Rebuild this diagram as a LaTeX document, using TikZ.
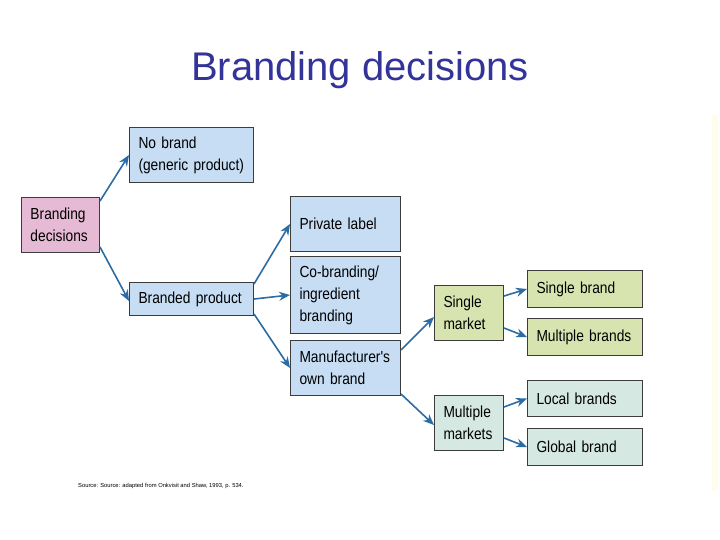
\documentclass[tikz,border=0pt]{standalone}
\usepackage{xcolor}
\usepackage{fontspec}
\setmainfont{Liberation Sans}
\newfontfamily\boxfont[FakeStretch=0.86,WordSpace=0.86]{Liberation Sans}
\usepackage{tikz}
\usetikzlibrary{arrows.meta}
\definecolor{titleblue}{HTML}{333399}
\definecolor{boxborder}{HTML}{3C3C3C}
\definecolor{arrowblue}{HTML}{2C6CA4}
\definecolor{pinkfill}{HTML}{E6BAD4}
\definecolor{bluefill}{HTML}{C6DDF4}
\definecolor{greenfill}{HTML}{D8E4B0}
\definecolor{tealfill}{HTML}{D5E8E2}
\definecolor{edgecream}{HTML}{FFFCEC}

\tikzset{
    box/.style={
        draw=boxborder,
        line width=1pt,
        anchor=north west,
        align=left,
        inner xsep=9pt,
        inner ysep=0pt,
        font=\boxfont\fontsize{16}{22}\selectfont
    },
    arr/.style={
        draw=arrowblue,
        line width=1.6pt,
        -{Stealth[length=11pt,width=9pt]}
    }
}

\begin{document}
\begin{tikzpicture}[x=1pt,y=-1pt]
\useasboundingbox (0,0) rectangle (720,540);
\fill[edgecream] (712,115) rectangle (718,490);

\node[font=\fontsize{40}{44}\selectfont, text=titleblue] (title) at (360,70) {Branding decisions};

\node[box, fill=pinkfill, minimum width=78pt, minimum height=55pt, text width=60pt] (brand) at (21,197) {Branding\\decisions};
\node[box, fill=bluefill, minimum width=124pt, minimum height=55pt, text width=106pt] (nobrand) at (129,127) {No brand\\(generic product)};
\node[box, fill=bluefill, minimum width=124pt, minimum height=33pt, text width=106pt] (branded) at (129,282) {Branded product};

\node[box, fill=bluefill, minimum width=110pt, minimum height=55pt, text width=92pt] (private) at (290,196) {Private label};
\node[box, fill=bluefill, minimum width=110pt, minimum height=77pt, text width=92pt] (cobrand) at (290,256) {Co-branding/\\ingredient\\branding};
\node[box, fill=bluefill, minimum width=110pt, minimum height=55pt, text width=92pt] (manuf) at (290,340) {Manufacturer's\\own brand};

\node[box, fill=greenfill, minimum width=69pt, minimum height=55pt, text width=51pt] (single) at (434,285) {Single\\market};
\node[box, fill=tealfill, minimum width=69pt, minimum height=55pt, text width=51pt] (multi) at (434,395) {Multiple\\markets};

\node[box, fill=greenfill, minimum width=115pt, minimum height=37pt, text width=97pt] (singlebrand) at (527,270) {Single brand};
\node[box, fill=greenfill, minimum width=115pt, minimum height=37pt, text width=97pt] (multibrands) at (527,318) {Multiple brands};
\node[box, fill=tealfill, minimum width=115pt, minimum height=36pt, text width=97pt] (local) at (527,380) {Local brands};
\node[box, fill=tealfill, minimum width=115pt, minimum height=37pt, text width=97pt] (global) at (527,428) {Global brand};

\draw[arr] ([yshift=-4pt]brand.north east) -- (nobrand.west);
\draw[arr] ([yshift=6pt]brand.south east) -- ([yshift=-2pt]branded.west);

\draw[arr] ([yshift=-2pt]branded.north east) -- (private.west);
\draw[arr] (branded.east) -- (cobrand.west);
\draw[arr] ([yshift=2pt]branded.south east) -- (manuf.west);

\draw[arr] ([yshift=-10pt]manuf.north east) -- ([yshift=-4pt]single.west);
\draw[arr] ([yshift=2pt]manuf.south east) -- ([yshift=-2pt]multi.west);

\draw[arr] ([yshift=-11pt]single.north east) -- (singlebrand.west);
\draw[arr] ([yshift=13pt]single.south east) -- (multibrands.west);
\draw[arr] ([yshift=-12pt]multi.north east) -- (local.west);
\draw[arr] ([yshift=13pt]multi.south east) -- (global.west);

\node[anchor=west, font=\fontsize{5.8}{7}\selectfont, inner sep=0pt] (source) at (78,486) {Source: Source: adapted from Onkvisit and Shaw, 1993, p. 534.};
\end{tikzpicture}
\end{document}
